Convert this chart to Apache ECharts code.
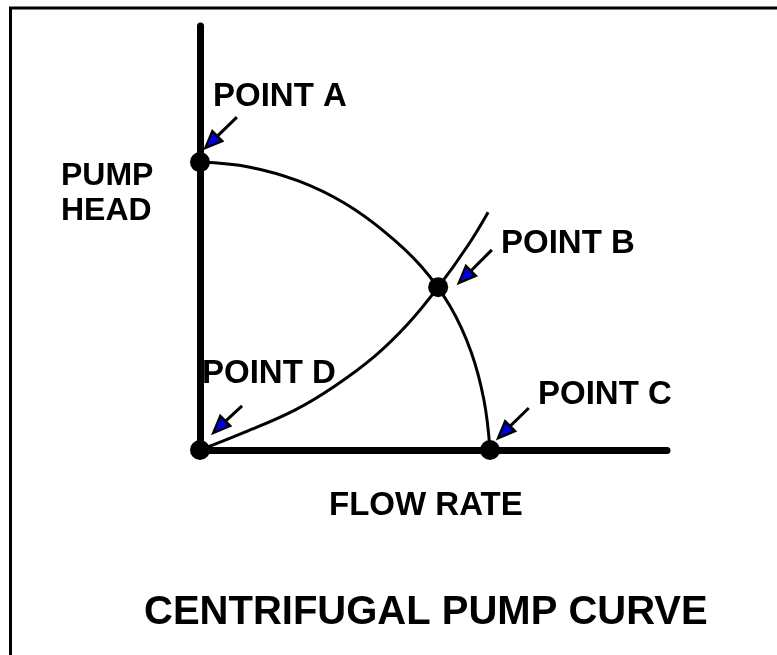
<!DOCTYPE html>
<html>
<head>
<meta charset="utf-8">
<title>Centrifugal Pump Curve</title>
<script src="https://cdn.jsdelivr.net/npm/echarts@6/dist/echarts.min.js"></script>
<style>
html,body{margin:0;padding:0;background:#fff;}
#pumpChart{width:777px;height:655px;}
</style>
</head>
<body>
<div id="pumpChart"></div>
<script>
// pump curve (flow, head), 0-100 on both axes
var pumpFlow = [0, 10.7, 21.2, 30.8, 39.6, 47.3, 53.5, 58.0, 60.8, 62.1];
var pumpHead = [67.9, 66.7, 63.4, 58.3, 51.4, 43.4, 34.0, 23.3, 11.8, 0];

// system curve
var sysFlow = [0, 9.6, 20.3, 28.9, 37.5, 44.5, 51.0, 57.4, 61.7];
var sysHead = [0, 4.2, 9.4, 15.1, 22.2, 29.7, 38.4, 48.3, 56.1];

// points A B C D
var pointNames = ['POINT A', 'POINT B', 'POINT C', 'POINT D'];
var pointFlow = [0, 51.0, 62.1, 0];
var pointHead = [67.9, 38.4, 0, 0];

// arrows: tail -> head
var arrowTailFlow = [7.9, 62.5, 70.4, 9.0];
var arrowTailHead = [78.5, 47.2, 9.9, 10.4];
var arrowTipFlow = [2.4, 56.7, 65.1, 4.1];
var arrowTipHead = [72.6, 40.8, 4.2, 5.4];

function pairs(xs, ys){
    var out = [];
    for(var i=0;i<xs.length;i++){
        out.push([xs[i], ys[i]]);
    }
    return out;
}

var shafts = [];
for(var i=0;i<arrowTailFlow.length;i++){
    shafts.push({coords:[[arrowTailFlow[i], arrowTailHead[i]], [arrowTipFlow[i], arrowTipHead[i]]]});
}

var font = 'bold 33px "Liberation Sans", Arial, sans-serif';
function label(txt, x, y, f){
    return {
        type:'text',
        style:{text:txt, x:x, y:y, font:f || font, fill:'#000', align:'left', verticalAlign:'middle'},
        z:100
    };
}

var myChart = echarts.init(document.getElementById('pumpChart'));

myChart.setOption({
    backgroundColor:'#fff',
    animation:false,
    grid:{left:200, right:110, top:26, bottom:205},
    xAxis:{
        type:'value', min:0, max:100,
        axisLine:{show:true, onZero:false, lineStyle:{color:'#000', width:7}},
        axisTick:{show:false}, axisLabel:{show:false}, splitLine:{show:false}
    },
    yAxis:{
        type:'value', min:0, max:100,
        axisLine:{show:true, onZero:false, lineStyle:{color:'#000', width:7}},
        axisTick:{show:false}, axisLabel:{show:false}, splitLine:{show:false}
    },
    graphic:[
        // frame, only top and left show
        {type:'line', shape:{x1:9, y1:8, x2:777, y2:8}, style:{stroke:'#000', lineWidth:3}},
        {type:'line', shape:{x1:10.5, y1:7, x2:10.5, y2:655}, style:{stroke:'#000', lineWidth:3}},
        label('POINT A', 213, 97),
        label('PUMP', 61, 176, 'bold 32px "Liberation Sans", Arial, sans-serif'),
        label('HEAD', 61, 211, 'bold 32px "Liberation Sans", Arial, sans-serif'),
        label('POINT B', 501, 244),
        label('POINT D', 202, 374),
        label('POINT C', 538, 395),
        label('FLOW RATE', 329, 506),
        label('CENTRIFUGAL PUMP CURVE', 144, 613, 'bold 40px "Liberation Sans", Arial, sans-serif')
    ],
    series:[
        {
            name:'pump', type:'line', smooth:0.4, symbol:'none', clip:false,
            data:pairs(pumpFlow, pumpHead),
            lineStyle:{color:'#000', width:3}
        },
        {
            name:'system', type:'line', smooth:0.4, symbol:'none', clip:false,
            data:pairs(sysFlow, sysHead),
            lineStyle:{color:'#000', width:3}
        },
        {
            name:'shafts', type:'lines', coordinateSystem:'cartesian2d', clip:false,
            data:shafts,
            lineStyle:{color:'#000', width:3, opacity:1},
            z:5
        },
        {
            name:'heads', type:'scatter', clip:false,
            data:pairs(arrowTipFlow, arrowTipHead),
            symbol:'triangle', symbolSize:[14,17], symbolRotate:135,
            itemStyle:{color:'#0000e6', borderColor:'#000', borderWidth:2.5, opacity:1},
            z:6
        },
        {
            name:'points', type:'scatter', clip:false,
            data:pairs(pointFlow, pointHead),
            symbol:'circle', symbolSize:20,
            itemStyle:{color:'#000', opacity:1},
            z:7
        }
    ]
});
</script>
</body>
</html>
